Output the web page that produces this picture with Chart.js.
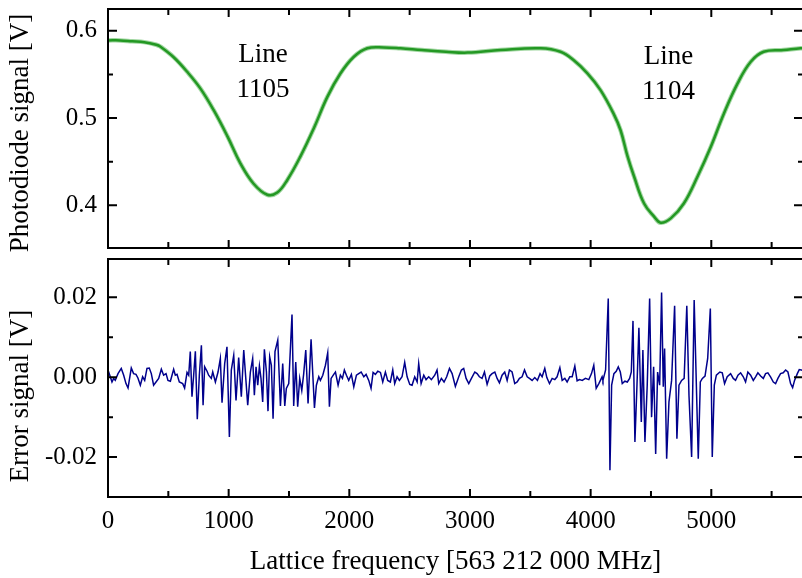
<!DOCTYPE html>
<html>
<head>
<meta charset="utf-8">
<script src="https://cdn.jsdelivr.net/npm/chart.js@4.4.0/dist/chart.umd.min.js"></script>
<style>
  html, body { margin: 0; padding: 0; background: #fff; overflow: hidden; }
  #wrap { position: relative; width: 802px; height: 578px; overflow: hidden; }
  #top { position: absolute; left: 0; top: 0; }
  #bottom { position: absolute; left: 0; top: 250px; }
</style>
</head>
<body>
<div id="wrap">
  <canvas id="top" width="812" height="252"></canvas>
  <canvas id="bottom" width="812" height="328"></canvas>
</div>
<script>
// lattice frequency axis
const xMax = 5760;
const xTicks = [0, 1000, 2000, 3000, 4000, 5000];
const xMinor = [500, 1500, 2500, 3500, 4500, 5500];

// photodiode signal (top panel)
const photoX = [0, 100, 200, 300, 400, 433, 542, 656, 765, 876, 990, 1097, 1205, 1320, 1403, 1486, 1595, 1705, 1817, 1926,
  2036, 2149, 2285, 2424, 2600, 2800, 2980, 3253, 3585, 3750, 3858, 3975, 4082, 4190, 4248, 4306, 4360, 4443, 4526, 4580,
  4664, 4772, 4886, 4996, 5104, 5219, 5327, 5434, 5600, 5741, 5800];
const photoY = [0.589, 0.589, 0.588, 0.587, 0.584, 0.582, 0.570, 0.553, 0.534, 0.509, 0.479, 0.448, 0.425, 0.412, 0.4145, 0.429, 0.456, 0.488, 0.524, 0.551,
  0.570, 0.580, 0.581, 0.580, 0.578, 0.576, 0.575, 0.578, 0.580, 0.576, 0.5665, 0.551, 0.532, 0.505, 0.486, 0.456, 0.433, 0.402, 0.387, 0.380,
  0.385, 0.402, 0.433, 0.467, 0.505, 0.540, 0.5645, 0.576, 0.578, 0.580, 0.580];
const photoTicks = [0.4, 0.5, 0.6];
const photoMinor = [0.45, 0.55];

// line labels
const labelX = [1284, 4646];
const labelY = [0.5638, 0.5619];
const labelText = [["Line", "1105"], ["Line", "1104"]];

// error signal (bottom panel)
const errX = [0, 19, 33, 47, 60, 83, 110, 130, 149, 166, 193, 212, 232, 248, 268, 287, 304, 323, 342, 359, 378, 398, 420, 442, 461, 481, 497, 517, 544, 558,
  572, 591, 619, 635, 655, 669, 682, 696, 710, 724, 740, 757, 774, 788, 801, 821, 834, 856, 868, 890, 912, 931, 945, 967, 986, 1006, 1022, 1042, 1061, 1083,
  1105, 1125, 1158, 1180, 1199, 1213, 1227, 1241, 1255, 1268, 1282, 1296, 1313, 1326, 1340, 1354, 1368, 1384, 1407, 1429, 1448, 1465, 1478, 1498, 1525, 1539, 1556, 1572, 1589, 1606,
  1622, 1639, 1658, 1683, 1711, 1727, 1747, 1760, 1780, 1802, 1821, 1835, 1849, 1871, 1885, 1907, 1926, 1943, 1959, 1976, 1995, 2017, 2037, 2059, 2078, 2098, 2120, 2139, 2161, 2180,
  2197, 2216, 2236, 2258, 2277, 2299, 2318, 2340, 2360, 2376, 2396, 2415, 2437, 2459, 2479, 2501, 2520, 2542, 2562, 2575, 2595, 2617, 2636, 2658, 2680, 2708, 2727, 2741, 2763, 2785,
  2807, 2830, 2852, 2879, 2907, 2929, 2948, 2968, 2990, 3012, 3040, 3059, 3078, 3100, 3120, 3142, 3164, 3183, 3206, 3225, 3244, 3266, 3288, 3308, 3327, 3349, 3371, 3391, 3410, 3432,
  3452, 3474, 3493, 3515, 3537, 3559, 3581, 3598, 3620, 3637, 3659, 3681, 3703, 3722, 3745, 3764, 3786, 3805, 3827, 3847, 3869, 3888, 3908, 3930, 3957, 3985, 4007, 4026, 4046, 4068,
  4095, 4102, 4124, 4146, 4160, 4174, 4193, 4212, 4229, 4246, 4262, 4284, 4304, 4323, 4337, 4351, 4367, 4384, 4400, 4420, 4433, 4450, 4469, 4489, 4505, 4522, 4539, 4555, 4572, 4588,
  4602, 4613, 4630, 4649, 4671, 4696, 4715, 4732, 4754, 4775, 4797, 4815, 4837, 4858, 4892, 4909, 4926, 4948, 4970, 4992, 5008, 5025, 5042, 5071, 5091, 5110, 5132, 5160, 5182, 5201,
  5221, 5243, 5265, 5284, 5303, 5326, 5348, 5367, 5386, 5409, 5431, 5450, 5469, 5491, 5514, 5533, 5552, 5574, 5596, 5616, 5635, 5657, 5674, 5690, 5713, 5729, 5746, 5790];
const errY = [0.0018, 0.0001, -0.0012, -0.0003, -0.0008, 0.0009, 0.0022, 0.0005, -0.0016, -0.0027, 0.0023, 0.0009, 0.0007, -0.0002, -0.0020, 0.0001, -0.0008, 0.0022, 0.0023, 0.0009, -0.0020, -0.0012, -0.0003, 0.0020, 0.0005, 0.0009, -0.0008, -0.0010, 0.0020, 0.0005,
  0.0007, -0.0012, -0.0016, -0.0027, 0.0012, 0.0005, 0.0064, -0.0049, 0.0005, 0.0065, -0.0105, 0.0005, 0.0080, -0.0070, 0.0026, 0.0015, 0.0005, -0.0003, 0.0013, -0.0012, 0.0013, 0.0047, -0.0064, 0.0034, 0.0076, -0.0150, 0.0018, 0.0055, -0.0058, 0.0049,
  -0.0049, 0.0068, -0.0070, 0.0013, 0.0047, -0.0045, 0.0026, -0.0020, 0.0028, -0.0003, -0.0062, 0.0070, 0.0013, -0.0085, 0.0051, 0.0030, -0.0104, 0.0064, 0.0093, -0.0072, 0.0034, -0.0072, -0.0028, -0.0016, 0.0157, -0.0072, 0.0038, -0.0074, -0.0003, -0.0033,
  0.0009, 0.0068, -0.0066, 0.0095, -0.0077, -0.0020, 0.0001, -0.0008, 0.0005, 0.0030, 0.0061, -0.0074, -0.0003, 0.0007, 0.0013, -0.0020, 0.0005, -0.0003, 0.0018, 0.0005, -0.0008, 0.0007, -0.0024, 0.0005, 0.0009, 0.0013, 0.0001, 0.0007, -0.0008, -0.0028,
  0.0012, 0.0007, 0.0015, 0.0012, -0.0012, 0.0013, -0.0008, -0.0012, 0.0018, -0.0016, 0.0001, -0.0008, 0.0001, 0.0037, 0.0001, -0.0018, -0.0020, 0.0001, -0.0012, 0.0034, -0.0016, 0.0005, -0.0006, 0.0001, -0.0006, 0.0005, 0.0018, -0.0016, -0.0003, -0.0012,
  0.0001, 0.0022, 0.0009, -0.0023, 0.0001, 0.0018, 0.0022, -0.0003, -0.0016, -0.0003, 0.0013, 0.0009, 0.0001, -0.0003, 0.0013, -0.0018, 0.0003, 0.0009, 0.0013, -0.0003, -0.0014, 0.0005, 0.0013, -0.0008, 0.0018, 0.0013, -0.0016, -0.0012, -0.0003, 0.0001,
  0.0018, 0.0001, -0.0003, -0.0008, -0.0001, -0.0008, 0.0009, 0.0001, 0.0022, -0.0001, -0.0016, -0.0003, -0.0006, 0.0001, 0.0024, -0.0008, -0.0003, -0.0012, 0.0001, 0.0001, 0.0028, -0.0009, -0.0006, -0.0008, -0.0003, -0.0006, 0.0009, 0.0030, -0.0028, -0.0016,
  0.0001, -0.0008, 0.0018, 0.0197, -0.0233, -0.0020, 0.0009, 0.0015, 0.0026, 0.0013, -0.0016, -0.0010, -0.0012, -0.0003, 0.0013, 0.0141, -0.0162, -0.0020, 0.0124, -0.0112, 0.0068, -0.0162, -0.0020, 0.0197, -0.0100, 0.0026, -0.0192, 0.0013, -0.0020, 0.0212,
  -0.0024, 0.0072, -0.0204, -0.0062, -0.0008, 0.0179, -0.0154, -0.0020, -0.0008, -0.0003, 0.0179, -0.0045, -0.0200, 0.0193, -0.0204, -0.0012, -0.0003, 0.0003, 0.0047, 0.0172, -0.0200, -0.0020, 0.0005, 0.0013, 0.0011, -0.0016, 0.0001, 0.0009, -0.0003, -0.0008,
  0.0005, 0.0011, 0.0001, -0.0012, 0.0013, 0.0005, -0.0008, 0.0001, 0.0011, 0.0003, -0.0003, 0.0009, 0.0011, 0.0001, -0.0012, -0.0016, -0.0003, 0.0009, 0.0011, 0.0018, 0.0013, -0.0016, -0.0026, -0.0008, 0.0009, 0.0019, 0.0018, 0.0015];
const errTicks = [-0.02, 0, 0.02];
const errMinor = [-0.01, 0.01];

const serif = "'Liberation Serif', 'Times New Roman', serif";
const tickFont = { family: serif, size: 25 };

// frame with inward ticks on all four sides
const framePlugin = {
  id: "frame",
  afterDatasetsDraw(chart, args, opts) {
    const { ctx, chartArea: a } = chart;
    const x = chart.scales.x, y = chart.scales.y;
    ctx.save();
    ctx.strokeStyle = "#000";
    ctx.lineWidth = 2;
    ctx.beginPath();
    const xt = (v, len) => {
      const p = x.getPixelForValue(v);
      ctx.moveTo(p, a.bottom); ctx.lineTo(p, a.bottom - len);
      ctx.moveTo(p, a.top); ctx.lineTo(p, a.top + len);
    };
    const yt = (v, len) => {
      const p = y.getPixelForValue(v);
      ctx.moveTo(a.left, p); ctx.lineTo(a.left + len, p);
      ctx.moveTo(a.right, p); ctx.lineTo(a.right - len, p);
    };
    xTicks.forEach(v => xt(v, 8));
    xMinor.forEach(v => xt(v, 6));
    opts.major.forEach(v => yt(v, 9));
    opts.minor.forEach(v => yt(v, 5));
    ctx.stroke();
    ctx.strokeRect(a.left, a.top, a.right - a.left, a.bottom - a.top);
    ctx.restore();
  }
};

// rotated y title
const sideTitle = {
  id: "sideTitle",
  afterDraw(chart, args, opts) {
    const ctx = chart.ctx;
    ctx.save();
    ctx.translate(opts.x, opts.y);
    ctx.rotate(-Math.PI / 2);
    ctx.font = "27px " + serif;
    ctx.fillStyle = "#000";
    ctx.textAlign = "center";
    ctx.textBaseline = "middle";
    ctx.fillText(opts.text, 0, 0);
    ctx.restore();
  }
};

// "Line 1105" / "Line 1104"
const lineLabels = {
  id: "lineLabels",
  afterDraw(chart) {
    const ctx = chart.ctx;
    ctx.save();
    ctx.font = "27px " + serif;
    ctx.fillStyle = "#000";
    ctx.textAlign = "center";
    ctx.textBaseline = "alphabetic";
    labelText.forEach((lines, i) => {
      const px = chart.scales.x.getPixelForValue(labelX[i]);
      const py = chart.scales.y.getPixelForValue(labelY[i]);
      lines.forEach((t, j) => ctx.fillText(t, px, py + j * 35));
    });
    ctx.restore();
  }
};

function setTicks(list) {
  return s => { s.ticks = list.map(v => ({ value: v })); };
}

// fixed axis sizes, no extra padding from the labels
function fixY(s) {
  s.width = 108;
  s.paddingTop = 0;
  s.paddingBottom = 0;
}
function fixX(s) {
  s.height = 81;
  s.paddingLeft = 0;
  s.paddingRight = 0;
}

const topChart = new Chart(document.querySelector("#top"), {
  type: "line",
  data: {
    datasets: [
      {
        data: photoX.map((v, i) => ({ x: v, y: photoY[i] })),
        borderColor: "rgba(70, 175, 70, 0.5)",
        borderWidth: 4.5,
        pointRadius: 0,
        tension: 0.4
      },
      {
        data: photoX.map((v, i) => ({ x: v, y: photoY[i] })),
        borderColor: "rgb(0, 128, 0)",
        borderWidth: 2.5,
        pointRadius: 0,
        tension: 0.4
      }
    ]
  },
  options: {
    responsive: false,
    animation: false,
    layout: { padding: { top: 9, right: 9, bottom: 4, left: 0 } },
    plugins: {
      legend: { display: false },
      tooltip: { enabled: false },
      frame: { major: photoTicks, minor: photoMinor },
      sideTitle: { text: "Photodiode signal [V]", x: 21, y: 133 }
    },
    scales: {
      x: { type: "linear", min: 0, max: xMax, display: false },
      y: {
        min: 0.351,
        max: 0.625,
        afterFit: fixY,
        afterBuildTicks: setTicks(photoTicks),
        grid: { display: false, drawTicks: false },
        border: { display: false },
        ticks: { font: tickFont, color: "#000", padding: 11, callback: v => v.toFixed(1) }
      }
    }
  },
  plugins: [framePlugin, sideTitle, lineLabels]
});

const bottomChart = new Chart(document.querySelector("#bottom"), {
  type: "line",
  data: {
    datasets: [
      {
        data: errX.map((v, i) => ({ x: v, y: errY[i] })),
        borderColor: "rgb(0, 0, 140)",
        borderWidth: 1.5,
        pointRadius: 0,
        tension: 0
      }
    ]
  },
  options: {
    responsive: false,
    animation: false,
    layout: { padding: { top: 9, right: 9, bottom: 0, left: 0 } },
    plugins: {
      legend: { display: false },
      tooltip: { enabled: false },
      frame: { major: errTicks, minor: errMinor },
      sideTitle: { text: "Error signal [V]", x: 21, y: 146 }
    },
    scales: {
      x: {
        type: "linear",
        min: 0,
        max: xMax,
        afterFit: fixX,
        afterBuildTicks: setTicks(xTicks),
        grid: { display: false, drawTicks: false },
        border: { display: false },
        ticks: { font: tickFont, color: "#000", padding: 9, maxRotation: 0, callback: v => String(v) },
        title: {
          display: true,
          text: "Lattice frequency [563 212 000 MHz]",
          font: { family: serif, size: 27 },
          color: "#000",
          padding: 0
        }
      },
      y: {
        min: -0.030,
        max: 0.0296,
        afterFit: fixY,
        afterBuildTicks: setTicks(errTicks),
        grid: { display: false, drawTicks: false },
        border: { display: false },
        ticks: { font: tickFont, color: "#000", padding: 11, callback: v => v.toFixed(2) }
      }
    }
  },
  plugins: [framePlugin, sideTitle]
});
</script>
</body>
</html>
